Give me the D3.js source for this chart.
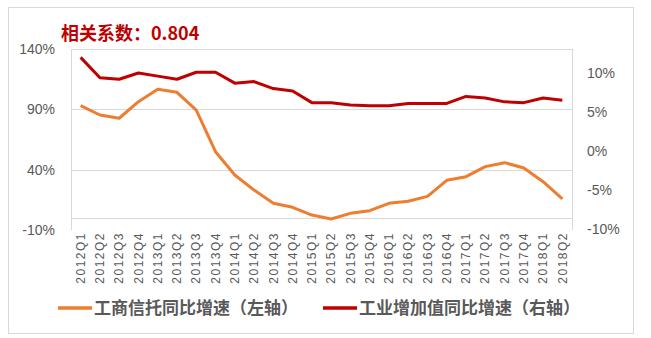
<!DOCTYPE html>
<html><head><meta charset="utf-8">
<script src="https://cdn.jsdelivr.net/npm/d3@7"></script>
<style>
body{margin:0;background:#fff;}
text{font-family:"Liberation Sans",Arial,"Noto Sans CJK SC",sans-serif;}
.cjk{font-family:"Noto Sans CJK SC","Liberation Sans",sans-serif;}
</style></head>
<body><svg id="c" width="651" height="338"></svg>
<script>
const categories = ["2012Q1","2012Q2","2012Q3","2012Q4","2013Q1","2013Q2","2013Q3","2013Q4",
"2014Q1","2014Q2","2014Q3","2014Q4","2015Q1","2015Q2","2015Q3","2015Q4",
"2016Q1","2016Q2","2016Q3","2016Q4","2017Q1","2017Q2","2017Q3","2017Q4","2018Q1","2018Q2"];
const trustGrowth = [93,85.3,82.6,96.3,106.6,104.1,89.4,54.9,35.6,23.1,12.1,8.8,2.4,-0.9,3.8,6.0,12.1,13.8,17.9,31.2,34.2,42.5,45.8,41.4,30,15.7];
const industryGrowth = [12.0,9.4,9.2,10.0,9.6,9.2,10.1,10.1,8.7,8.9,8.0,7.7,6.2,6.2,5.9,5.8,5.8,6.1,6.1,6.1,7.0,6.8,6.3,6.2,6.8,6.5];
const leftTicks = [140,90,40,-10];
const rightTicks = [10,5,0,-5,-10];
const seriesNames = ["工商信托同比增速（左轴）","工业增加值同比增速（右轴）"];
const titleText = "相关系数：0.804";

const svg = d3.select("#c");
const L=71, R=572, T=49, B=230;
const orange="#ED7D31", red="#C00000", grid="#d9d9d9", txt="#595959";

svg.append("rect").attr("x",8.5).attr("y",7.5).attr("width",625).attr("height",326)
  .attr("fill","none").attr("stroke",grid);

const x = d3.scaleBand().domain(categories).range([L,R]);
const yL = d3.scaleLinear().domain([-10,140]).range([B,T]);
const yR = d3.scaleLinear().domain([-10,10]).range([229,73]);

// gridlines
svg.append("g").selectAll("line").data([140,90,40]).join("line")
  .attr("x1",L).attr("x2",R).attr("y1",d=>Math.round(yL(d))+0.5).attr("y2",d=>Math.round(yL(d))+0.5)
  .attr("stroke",grid);
// horizontal axis line at 0
svg.append("line").attr("x1",L).attr("x2",R).attr("y1",Math.round(yL(0))+0.5).attr("y2",Math.round(yL(0))+0.5).attr("stroke",grid);
// frame sides
svg.append("line").attr("x1",L+0.5).attr("x2",L+0.5).attr("y1",T).attr("y2",B).attr("stroke",grid);
svg.append("line").attr("x1",R+0.5).attr("x2",R+0.5).attr("y1",T).attr("y2",B).attr("stroke",grid);

// left axis labels
const gl = svg.append("g").attr("transform",`translate(${L-16},0)`)
  .call(d3.axisLeft(yL).tickValues(leftTicks).tickFormat(d=>d+"%").tickSize(0));
gl.select(".domain").remove();
gl.selectAll("text").attr("fill",txt).style("font-size","14px").attr("x",0);

// right axis labels
const gr = svg.append("g").attr("transform",`translate(${R+15},0)`)
  .call(d3.axisRight(yR).tickValues(rightTicks).tickFormat(d=>d+"%").tickSize(0));
gr.select(".domain").remove();
gr.selectAll("text").attr("fill",txt).style("font-size","14px").attr("x",0);

// x axis labels
const gx = svg.append("g").attr("transform",`translate(0,${B+2})`)
  .call(d3.axisBottom(x).tickSize(0));
gx.select(".domain").remove();
gx.selectAll("text").attr("fill",txt).style("font-size","12px").style("letter-spacing","1.5px")
  .attr("transform","rotate(-90)").attr("text-anchor","end").attr("x",0).attr("y",0).attr("dy","0.35em");

const cx = d => x(d)+x.bandwidth()/2;
svg.append("path").datum(trustGrowth)
  .attr("d",d3.line().x((d,i)=>cx(categories[i])).y(d=>yL(d)))
  .attr("fill","none").attr("stroke",orange).attr("stroke-width",3).attr("stroke-linejoin","round");
svg.append("path").datum(industryGrowth)
  .attr("d",d3.line().x((d,i)=>cx(categories[i])).y(d=>yR(d)))
  .attr("fill","none").attr("stroke",red).attr("stroke-width",3).attr("stroke-linejoin","round");

// title
svg.append("text").attr("class","cjk").attr("x",61).attr("y",39.5).attr("fill",red)
  .style("font-size","18px").style("font-weight","bold").text(titleText);

// legend
const leg = [{x:58,c:orange,t:seriesNames[0]},{x:323,c:red,t:seriesNames[1]}];
leg.forEach(l=>{
  svg.append("line").attr("x1",l.x).attr("x2",l.x+34).attr("y1",308).attr("y2",308)
    .attr("stroke",l.c).attr("stroke-width",3.5);
  svg.append("text").attr("class","cjk").attr("x",l.x+36).attr("y",308).attr("dy","0.36em")
    .attr("fill",txt).style("font-size","17px").style("font-weight","bold").text(l.t);
});
</script></body></html>
